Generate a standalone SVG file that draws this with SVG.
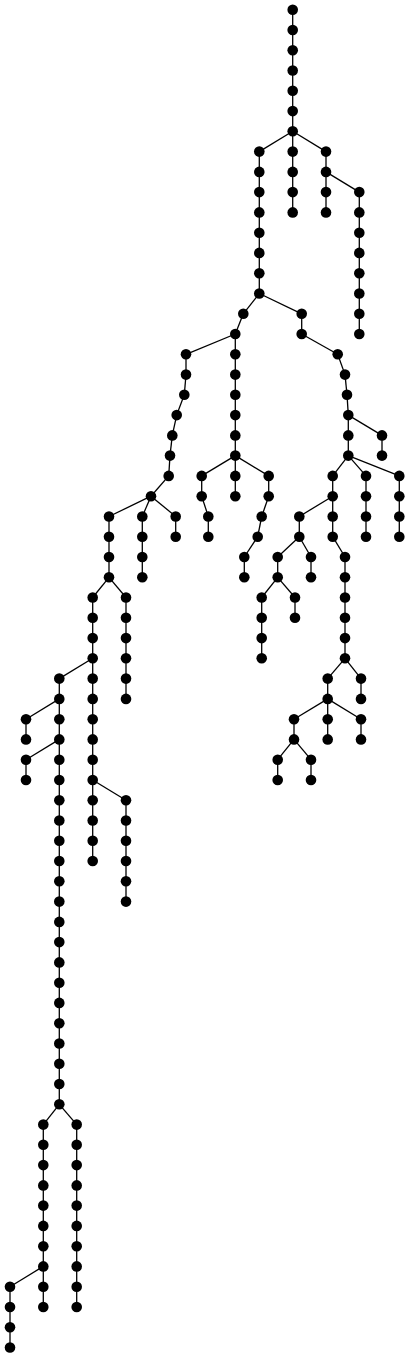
<svg xmlns="http://www.w3.org/2000/svg" width="410" height="1358" viewBox="0 0 410 1358">
<style>
.edges line{stroke:#000;stroke-width:1.3;fill:none}
.node circle{fill:#000}
</style>
<rect width="410" height="1358" fill="#fff"/>
<g id="connectors" class="edges">
<line x1="292.7" y1="9.7" x2="292.7" y2="30.0"/>
<line x1="292.7" y1="30.0" x2="292.7" y2="50.2"/>
<line x1="292.7" y1="50.2" x2="292.7" y2="70.5"/>
<line x1="292.7" y1="70.5" x2="292.7" y2="90.8"/>
<line x1="292.7" y1="90.8" x2="292.7" y2="111.1"/>
<line x1="292.7" y1="111.1" x2="292.7" y2="131.3"/>
<line x1="292.7" y1="131.3" x2="292.7" y2="151.6"/>
<line x1="292.7" y1="151.6" x2="292.7" y2="171.9"/>
<line x1="292.7" y1="171.9" x2="292.7" y2="192.1"/>
<line x1="292.7" y1="192.1" x2="292.7" y2="212.4"/>
<line x1="292.7" y1="131.3" x2="326" y2="151.6"/>
<line x1="326" y1="151.6" x2="326" y2="171.9"/>
<line x1="326" y1="171.9" x2="326" y2="192.1"/>
<line x1="326" y1="192.1" x2="326" y2="212.4"/>
<line x1="326" y1="171.9" x2="359.3" y2="192.1"/>
<line x1="359.3" y1="192.1" x2="359.3" y2="212.4"/>
<line x1="359.3" y1="212.4" x2="359.3" y2="232.7"/>
<line x1="359.3" y1="232.7" x2="359.3" y2="252.9"/>
<line x1="359.3" y1="252.9" x2="359.3" y2="273.2"/>
<line x1="359.3" y1="273.2" x2="359.3" y2="293.5"/>
<line x1="359.3" y1="293.5" x2="359.3" y2="313.8"/>
<line x1="359.3" y1="313.8" x2="359.3" y2="334.0"/>
<line x1="292.7" y1="131.3" x2="259.3" y2="151.6"/>
<line x1="259.3" y1="151.6" x2="259.3" y2="171.9"/>
<line x1="259.3" y1="171.9" x2="259.3" y2="192.1"/>
<line x1="259.3" y1="192.1" x2="259.3" y2="212.4"/>
<line x1="259.3" y1="212.4" x2="259.3" y2="232.7"/>
<line x1="259.3" y1="232.7" x2="259.3" y2="252.9"/>
<line x1="259.3" y1="252.9" x2="259.3" y2="273.2"/>
<line x1="259.3" y1="273.2" x2="259.3" y2="293.5"/>
<line x1="259.3" y1="293.5" x2="243.3" y2="313.8"/>
<line x1="243.3" y1="313.8" x2="235.3" y2="334.0"/>
<line x1="259.3" y1="293.5" x2="301.7" y2="313.8"/>
<line x1="301.7" y1="313.8" x2="301.7" y2="334.0"/>
<line x1="301.7" y1="334.0" x2="337.7" y2="354.3"/>
<line x1="337.7" y1="354.3" x2="345" y2="374.6"/>
<line x1="345" y1="374.6" x2="347" y2="394.8"/>
<line x1="347" y1="394.8" x2="348.3" y2="415.1"/>
<line x1="348.3" y1="415.1" x2="348.3" y2="435.4"/>
<line x1="348.3" y1="435.4" x2="348.3" y2="455.6"/>
<line x1="348.3" y1="415.1" x2="382" y2="435.4"/>
<line x1="382" y1="435.4" x2="382" y2="455.6"/>
<line x1="348.3" y1="455.6" x2="332.7" y2="475.9"/>
<line x1="332.7" y1="475.9" x2="332.7" y2="496.2"/>
<line x1="348.3" y1="455.6" x2="366" y2="475.9"/>
<line x1="366" y1="475.9" x2="366" y2="496.2"/>
<line x1="366" y1="496.2" x2="366" y2="516.5"/>
<line x1="366" y1="516.5" x2="366" y2="536.7"/>
<line x1="348.3" y1="455.6" x2="399.3" y2="475.9"/>
<line x1="399.3" y1="475.9" x2="399.3" y2="496.2"/>
<line x1="399.3" y1="496.2" x2="399.3" y2="516.5"/>
<line x1="399.3" y1="516.5" x2="399.3" y2="536.7"/>
<line x1="332.7" y1="496.2" x2="299.3" y2="516.5"/>
<line x1="299.3" y1="516.5" x2="299.3" y2="536.7"/>
<line x1="299.3" y1="536.7" x2="277.7" y2="557.0"/>
<line x1="277.7" y1="557.0" x2="277.7" y2="577.3"/>
<line x1="299.3" y1="536.7" x2="311" y2="557.0"/>
<line x1="311" y1="557.0" x2="311" y2="577.3"/>
<line x1="277.7" y1="577.3" x2="261.7" y2="597.5"/>
<line x1="261.7" y1="597.5" x2="261.7" y2="617.8"/>
<line x1="261.7" y1="617.8" x2="261.7" y2="638.1"/>
<line x1="261.7" y1="638.1" x2="261.7" y2="658.3"/>
<line x1="277.7" y1="577.3" x2="295" y2="597.5"/>
<line x1="295" y1="597.5" x2="295" y2="617.8"/>
<line x1="332.7" y1="496.2" x2="332.7" y2="516.5"/>
<line x1="332.7" y1="516.5" x2="332.7" y2="536.7"/>
<line x1="332.7" y1="536.7" x2="345" y2="557.0"/>
<line x1="345" y1="557.0" x2="345" y2="577.3"/>
<line x1="345" y1="577.3" x2="345" y2="597.5"/>
<line x1="345" y1="597.5" x2="345" y2="617.8"/>
<line x1="345" y1="617.8" x2="345" y2="638.1"/>
<line x1="345" y1="638.1" x2="345" y2="658.3"/>
<line x1="345" y1="658.3" x2="327.7" y2="678.6"/>
<line x1="327.7" y1="678.6" x2="327.7" y2="698.9"/>
<line x1="345" y1="658.3" x2="361" y2="678.6"/>
<line x1="361" y1="678.6" x2="361" y2="698.9"/>
<line x1="327.7" y1="698.9" x2="294" y2="719.2"/>
<line x1="294" y1="719.2" x2="294" y2="739.4"/>
<line x1="327.7" y1="698.9" x2="327.7" y2="719.2"/>
<line x1="327.7" y1="719.2" x2="327.7" y2="739.4"/>
<line x1="327.7" y1="698.9" x2="361" y2="719.2"/>
<line x1="361" y1="719.2" x2="361" y2="739.4"/>
<line x1="294" y1="739.4" x2="277.7" y2="759.7"/>
<line x1="277.7" y1="759.7" x2="277.7" y2="780.0"/>
<line x1="294" y1="739.4" x2="311" y2="759.7"/>
<line x1="311" y1="759.7" x2="311" y2="780.0"/>
<line x1="235.3" y1="334.0" x2="235.3" y2="354.3"/>
<line x1="235.3" y1="354.3" x2="235.3" y2="374.6"/>
<line x1="235.3" y1="374.6" x2="235.3" y2="394.8"/>
<line x1="235.3" y1="394.8" x2="235.3" y2="415.1"/>
<line x1="235.3" y1="415.1" x2="235.3" y2="435.4"/>
<line x1="235.3" y1="435.4" x2="235.3" y2="455.6"/>
<line x1="235.3" y1="455.6" x2="201.7" y2="475.9"/>
<line x1="201.7" y1="475.9" x2="201.7" y2="496.2"/>
<line x1="201.7" y1="496.2" x2="208.3" y2="516.5"/>
<line x1="208.3" y1="516.5" x2="208.3" y2="536.7"/>
<line x1="235.3" y1="455.6" x2="235.3" y2="475.9"/>
<line x1="235.3" y1="475.9" x2="235.3" y2="496.2"/>
<line x1="235.3" y1="455.6" x2="268.7" y2="475.9"/>
<line x1="268.7" y1="475.9" x2="268.7" y2="496.2"/>
<line x1="268.7" y1="496.2" x2="261.7" y2="516.5"/>
<line x1="261.7" y1="516.5" x2="257.7" y2="536.7"/>
<line x1="257.7" y1="536.7" x2="244.3" y2="557.0"/>
<line x1="244.3" y1="557.0" x2="244.3" y2="577.3"/>
<line x1="235.3" y1="334.0" x2="186" y2="354.3"/>
<line x1="186" y1="354.3" x2="186" y2="374.6"/>
<line x1="186" y1="374.6" x2="184.3" y2="394.8"/>
<line x1="184.3" y1="394.8" x2="176.7" y2="415.1"/>
<line x1="176.7" y1="415.1" x2="172.3" y2="435.4"/>
<line x1="172.3" y1="435.4" x2="170" y2="455.6"/>
<line x1="170" y1="455.6" x2="168.7" y2="475.9"/>
<line x1="168.7" y1="475.9" x2="151" y2="496.2"/>
<line x1="151" y1="496.2" x2="175.7" y2="516.5"/>
<line x1="175.7" y1="516.5" x2="175.7" y2="536.7"/>
<line x1="151" y1="496.2" x2="142.3" y2="516.5"/>
<line x1="142.3" y1="516.5" x2="142.3" y2="536.7"/>
<line x1="142.3" y1="536.7" x2="142.3" y2="557.0"/>
<line x1="142.3" y1="557.0" x2="142.3" y2="577.3"/>
<line x1="151" y1="496.2" x2="109" y2="516.5"/>
<line x1="109" y1="516.5" x2="109" y2="536.7"/>
<line x1="109" y1="536.7" x2="109" y2="557.0"/>
<line x1="109" y1="557.0" x2="109" y2="577.3"/>
<line x1="109" y1="577.3" x2="126" y2="597.5"/>
<line x1="126" y1="597.5" x2="126" y2="617.8"/>
<line x1="126" y1="617.8" x2="126" y2="638.1"/>
<line x1="126" y1="638.1" x2="126" y2="658.3"/>
<line x1="126" y1="658.3" x2="126" y2="678.6"/>
<line x1="126" y1="678.6" x2="126" y2="698.9"/>
<line x1="109" y1="577.3" x2="92.7" y2="597.5"/>
<line x1="92.7" y1="597.5" x2="92.7" y2="617.8"/>
<line x1="92.7" y1="617.8" x2="92.7" y2="638.1"/>
<line x1="92.7" y1="638.1" x2="92.7" y2="658.3"/>
<line x1="92.7" y1="658.3" x2="92.7" y2="678.6"/>
<line x1="92.7" y1="678.6" x2="92.7" y2="698.9"/>
<line x1="92.7" y1="698.9" x2="92.7" y2="719.2"/>
<line x1="92.7" y1="719.2" x2="92.7" y2="739.4"/>
<line x1="92.7" y1="739.4" x2="92.7" y2="759.7"/>
<line x1="92.7" y1="759.7" x2="92.7" y2="780.0"/>
<line x1="92.7" y1="780.0" x2="92.7" y2="800.2"/>
<line x1="92.7" y1="800.2" x2="92.7" y2="820.5"/>
<line x1="92.7" y1="820.5" x2="92.7" y2="840.8"/>
<line x1="92.7" y1="840.8" x2="92.7" y2="861.0"/>
<line x1="92.7" y1="780.0" x2="126" y2="800.2"/>
<line x1="126" y1="800.2" x2="126" y2="820.5"/>
<line x1="126" y1="820.5" x2="126" y2="840.8"/>
<line x1="126" y1="840.8" x2="126" y2="861.0"/>
<line x1="126" y1="861.0" x2="126" y2="881.3"/>
<line x1="126" y1="881.3" x2="126" y2="901.6"/>
<line x1="92.7" y1="658.3" x2="59.3" y2="678.6"/>
<line x1="59.3" y1="678.6" x2="59.3" y2="698.9"/>
<line x1="59.3" y1="698.9" x2="26" y2="719.2"/>
<line x1="26" y1="719.2" x2="26" y2="739.4"/>
<line x1="59.3" y1="698.9" x2="59.3" y2="719.2"/>
<line x1="59.3" y1="719.2" x2="59.3" y2="739.4"/>
<line x1="59.3" y1="739.4" x2="26" y2="759.7"/>
<line x1="26" y1="759.7" x2="26" y2="780.0"/>
<line x1="59.3" y1="739.4" x2="59.3" y2="759.7"/>
<line x1="59.3" y1="759.7" x2="59.3" y2="780.0"/>
<line x1="59.3" y1="780.0" x2="59.3" y2="800.2"/>
<line x1="59.3" y1="800.2" x2="59.3" y2="820.5"/>
<line x1="59.3" y1="820.5" x2="59.3" y2="840.8"/>
<line x1="59.3" y1="840.8" x2="59.3" y2="861.0"/>
<line x1="59.3" y1="861.0" x2="59.3" y2="881.3"/>
<line x1="59.3" y1="881.3" x2="59.3" y2="901.6"/>
<line x1="59.3" y1="901.6" x2="59.3" y2="921.9"/>
<line x1="59.3" y1="921.9" x2="59.3" y2="942.1"/>
<line x1="59.3" y1="942.1" x2="59.3" y2="962.4"/>
<line x1="59.3" y1="962.4" x2="59.3" y2="982.7"/>
<line x1="59.3" y1="982.7" x2="59.3" y2="1002.9"/>
<line x1="59.3" y1="1002.9" x2="59.3" y2="1023.2"/>
<line x1="59.3" y1="1023.2" x2="59.3" y2="1043.5"/>
<line x1="59.3" y1="1043.5" x2="59.3" y2="1063.7"/>
<line x1="59.3" y1="1063.7" x2="59.3" y2="1084.0"/>
<line x1="59.3" y1="1084.0" x2="59.3" y2="1104.3"/>
<line x1="59.3" y1="1104.3" x2="43.3" y2="1124.6"/>
<line x1="43.3" y1="1124.6" x2="43.3" y2="1144.8"/>
<line x1="43.3" y1="1144.8" x2="43.3" y2="1165.1"/>
<line x1="43.3" y1="1165.1" x2="43.3" y2="1185.4"/>
<line x1="43.3" y1="1185.4" x2="43.3" y2="1205.6"/>
<line x1="43.3" y1="1205.6" x2="43.3" y2="1225.9"/>
<line x1="43.3" y1="1225.9" x2="43.3" y2="1246.2"/>
<line x1="43.3" y1="1246.2" x2="43.3" y2="1266.4"/>
<line x1="43.3" y1="1266.4" x2="43.3" y2="1286.7"/>
<line x1="43.3" y1="1286.7" x2="43.3" y2="1307.0"/>
<line x1="59.3" y1="1104.3" x2="76.7" y2="1124.6"/>
<line x1="76.7" y1="1124.6" x2="76.7" y2="1144.8"/>
<line x1="76.7" y1="1144.8" x2="76.7" y2="1165.1"/>
<line x1="76.7" y1="1165.1" x2="76.7" y2="1185.4"/>
<line x1="76.7" y1="1185.4" x2="76.7" y2="1205.6"/>
<line x1="76.7" y1="1205.6" x2="76.7" y2="1225.9"/>
<line x1="76.7" y1="1225.9" x2="76.7" y2="1246.2"/>
<line x1="76.7" y1="1246.2" x2="76.7" y2="1266.4"/>
<line x1="76.7" y1="1266.4" x2="76.7" y2="1286.7"/>
<line x1="76.7" y1="1286.7" x2="76.7" y2="1307.0"/>
<line x1="43.3" y1="1266.4" x2="10" y2="1286.7"/>
<line x1="10" y1="1286.7" x2="10" y2="1307.0"/>
<line x1="10" y1="1307.0" x2="10" y2="1327.3"/>
<line x1="10" y1="1327.3" x2="10" y2="1347.5"/>
</g>
<g id="T0" class="node"><circle cx="292.7" cy="9.7" r="5.3"/></g>
<g id="T1" class="node"><circle cx="292.7" cy="30.0" r="5.3"/></g>
<g id="T2" class="node"><circle cx="292.7" cy="50.2" r="5.3"/></g>
<g id="T3" class="node"><circle cx="292.7" cy="70.5" r="5.3"/></g>
<g id="T4" class="node"><circle cx="292.7" cy="90.8" r="5.3"/></g>
<g id="T5" class="node"><circle cx="292.7" cy="111.1" r="5.3"/></g>
<g id="T6" class="node"><circle cx="292.7" cy="131.3" r="5.3"/></g>
<g id="M7" class="node"><circle cx="292.7" cy="151.6" r="5.3"/></g>
<g id="M8" class="node"><circle cx="292.7" cy="171.9" r="5.3"/></g>
<g id="M9" class="node"><circle cx="292.7" cy="192.1" r="5.3"/></g>
<g id="M10" class="node"><circle cx="292.7" cy="212.4" r="5.3"/></g>
<g id="R7" class="node"><circle cx="326" cy="151.6" r="5.3"/></g>
<g id="R8" class="node"><circle cx="326" cy="171.9" r="5.3"/></g>
<g id="R9" class="node"><circle cx="326" cy="192.1" r="5.3"/></g>
<g id="R10" class="node"><circle cx="326" cy="212.4" r="5.3"/></g>
<g id="S9" class="node"><circle cx="359.3" cy="192.1" r="5.3"/></g>
<g id="S10" class="node"><circle cx="359.3" cy="212.4" r="5.3"/></g>
<g id="S11" class="node"><circle cx="359.3" cy="232.7" r="5.3"/></g>
<g id="S12" class="node"><circle cx="359.3" cy="252.9" r="5.3"/></g>
<g id="S13" class="node"><circle cx="359.3" cy="273.2" r="5.3"/></g>
<g id="S14" class="node"><circle cx="359.3" cy="293.5" r="5.3"/></g>
<g id="S15" class="node"><circle cx="359.3" cy="313.8" r="5.3"/></g>
<g id="S16" class="node"><circle cx="359.3" cy="334.0" r="5.3"/></g>
<g id="L7" class="node"><circle cx="259.3" cy="151.6" r="5.3"/></g>
<g id="L8" class="node"><circle cx="259.3" cy="171.9" r="5.3"/></g>
<g id="L9" class="node"><circle cx="259.3" cy="192.1" r="5.3"/></g>
<g id="L10" class="node"><circle cx="259.3" cy="212.4" r="5.3"/></g>
<g id="L11" class="node"><circle cx="259.3" cy="232.7" r="5.3"/></g>
<g id="L12" class="node"><circle cx="259.3" cy="252.9" r="5.3"/></g>
<g id="L13" class="node"><circle cx="259.3" cy="273.2" r="5.3"/></g>
<g id="L14" class="node"><circle cx="259.3" cy="293.5" r="5.3"/></g>
<g id="P15" class="node"><circle cx="243.3" cy="313.8" r="5.3"/></g>
<g id="P16" class="node"><circle cx="235.3" cy="334.0" r="5.3"/></g>
<g id="Q15" class="node"><circle cx="301.7" cy="313.8" r="5.3"/></g>
<g id="Q16" class="node"><circle cx="301.7" cy="334.0" r="5.3"/></g>
<g id="Q17" class="node"><circle cx="337.7" cy="354.3" r="5.3"/></g>
<g id="Q18" class="node"><circle cx="345" cy="374.6" r="5.3"/></g>
<g id="Q19" class="node"><circle cx="347" cy="394.8" r="5.3"/></g>
<g id="Q20" class="node"><circle cx="348.3" cy="415.1" r="5.3"/></g>
<g id="Q21" class="node"><circle cx="348.3" cy="435.4" r="5.3"/></g>
<g id="Q22" class="node"><circle cx="348.3" cy="455.6" r="5.3"/></g>
<g id="U21" class="node"><circle cx="382" cy="435.4" r="5.3"/></g>
<g id="U22" class="node"><circle cx="382" cy="455.6" r="5.3"/></g>
<g id="V23" class="node"><circle cx="332.7" cy="475.9" r="5.3"/></g>
<g id="V24" class="node"><circle cx="332.7" cy="496.2" r="5.3"/></g>
<g id="W23" class="node"><circle cx="366" cy="475.9" r="5.3"/></g>
<g id="W24" class="node"><circle cx="366" cy="496.2" r="5.3"/></g>
<g id="W25" class="node"><circle cx="366" cy="516.5" r="5.3"/></g>
<g id="W26" class="node"><circle cx="366" cy="536.7" r="5.3"/></g>
<g id="X23" class="node"><circle cx="399.3" cy="475.9" r="5.3"/></g>
<g id="X24" class="node"><circle cx="399.3" cy="496.2" r="5.3"/></g>
<g id="X25" class="node"><circle cx="399.3" cy="516.5" r="5.3"/></g>
<g id="X26" class="node"><circle cx="399.3" cy="536.7" r="5.3"/></g>
<g id="Y25" class="node"><circle cx="299.3" cy="516.5" r="5.3"/></g>
<g id="Y26" class="node"><circle cx="299.3" cy="536.7" r="5.3"/></g>
<g id="YA27" class="node"><circle cx="277.7" cy="557.0" r="5.3"/></g>
<g id="YA28" class="node"><circle cx="277.7" cy="577.3" r="5.3"/></g>
<g id="YB27" class="node"><circle cx="311" cy="557.0" r="5.3"/></g>
<g id="YB28" class="node"><circle cx="311" cy="577.3" r="5.3"/></g>
<g id="YC29" class="node"><circle cx="261.7" cy="597.5" r="5.3"/></g>
<g id="YC30" class="node"><circle cx="261.7" cy="617.8" r="5.3"/></g>
<g id="YC31" class="node"><circle cx="261.7" cy="638.1" r="5.3"/></g>
<g id="YC32" class="node"><circle cx="261.7" cy="658.3" r="5.3"/></g>
<g id="YD29" class="node"><circle cx="295" cy="597.5" r="5.3"/></g>
<g id="YD30" class="node"><circle cx="295" cy="617.8" r="5.3"/></g>
<g id="Z25" class="node"><circle cx="332.7" cy="516.5" r="5.3"/></g>
<g id="Z26" class="node"><circle cx="332.7" cy="536.7" r="5.3"/></g>
<g id="Z27" class="node"><circle cx="345" cy="557.0" r="5.3"/></g>
<g id="Z28" class="node"><circle cx="345" cy="577.3" r="5.3"/></g>
<g id="Z29" class="node"><circle cx="345" cy="597.5" r="5.3"/></g>
<g id="Z30" class="node"><circle cx="345" cy="617.8" r="5.3"/></g>
<g id="Z31" class="node"><circle cx="345" cy="638.1" r="5.3"/></g>
<g id="Z32" class="node"><circle cx="345" cy="658.3" r="5.3"/></g>
<g id="ZA33" class="node"><circle cx="327.7" cy="678.6" r="5.3"/></g>
<g id="ZA34" class="node"><circle cx="327.7" cy="698.9" r="5.3"/></g>
<g id="ZB33" class="node"><circle cx="361" cy="678.6" r="5.3"/></g>
<g id="ZB34" class="node"><circle cx="361" cy="698.9" r="5.3"/></g>
<g id="ZC35" class="node"><circle cx="294" cy="719.2" r="5.3"/></g>
<g id="ZC36" class="node"><circle cx="294" cy="739.4" r="5.3"/></g>
<g id="ZD35" class="node"><circle cx="327.7" cy="719.2" r="5.3"/></g>
<g id="ZD36" class="node"><circle cx="327.7" cy="739.4" r="5.3"/></g>
<g id="ZE35" class="node"><circle cx="361" cy="719.2" r="5.3"/></g>
<g id="ZE36" class="node"><circle cx="361" cy="739.4" r="5.3"/></g>
<g id="ZF37" class="node"><circle cx="277.7" cy="759.7" r="5.3"/></g>
<g id="ZF38" class="node"><circle cx="277.7" cy="780.0" r="5.3"/></g>
<g id="ZG37" class="node"><circle cx="311" cy="759.7" r="5.3"/></g>
<g id="ZG38" class="node"><circle cx="311" cy="780.0" r="5.3"/></g>
<g id="E17" class="node"><circle cx="235.3" cy="354.3" r="5.3"/></g>
<g id="E18" class="node"><circle cx="235.3" cy="374.6" r="5.3"/></g>
<g id="E19" class="node"><circle cx="235.3" cy="394.8" r="5.3"/></g>
<g id="E20" class="node"><circle cx="235.3" cy="415.1" r="5.3"/></g>
<g id="E21" class="node"><circle cx="235.3" cy="435.4" r="5.3"/></g>
<g id="E22" class="node"><circle cx="235.3" cy="455.6" r="5.3"/></g>
<g id="F23" class="node"><circle cx="201.7" cy="475.9" r="5.3"/></g>
<g id="F24" class="node"><circle cx="201.7" cy="496.2" r="5.3"/></g>
<g id="F25" class="node"><circle cx="208.3" cy="516.5" r="5.3"/></g>
<g id="F26" class="node"><circle cx="208.3" cy="536.7" r="5.3"/></g>
<g id="G23" class="node"><circle cx="235.3" cy="475.9" r="5.3"/></g>
<g id="G24" class="node"><circle cx="235.3" cy="496.2" r="5.3"/></g>
<g id="H23" class="node"><circle cx="268.7" cy="475.9" r="5.3"/></g>
<g id="H24" class="node"><circle cx="268.7" cy="496.2" r="5.3"/></g>
<g id="H25" class="node"><circle cx="261.7" cy="516.5" r="5.3"/></g>
<g id="H26" class="node"><circle cx="257.7" cy="536.7" r="5.3"/></g>
<g id="H27" class="node"><circle cx="244.3" cy="557.0" r="5.3"/></g>
<g id="H28" class="node"><circle cx="244.3" cy="577.3" r="5.3"/></g>
<g id="D17" class="node"><circle cx="186" cy="354.3" r="5.3"/></g>
<g id="D18" class="node"><circle cx="186" cy="374.6" r="5.3"/></g>
<g id="D19" class="node"><circle cx="184.3" cy="394.8" r="5.3"/></g>
<g id="D20" class="node"><circle cx="176.7" cy="415.1" r="5.3"/></g>
<g id="D21" class="node"><circle cx="172.3" cy="435.4" r="5.3"/></g>
<g id="D22" class="node"><circle cx="170" cy="455.6" r="5.3"/></g>
<g id="D23" class="node"><circle cx="168.7" cy="475.9" r="5.3"/></g>
<g id="D24" class="node"><circle cx="151" cy="496.2" r="5.3"/></g>
<g id="K25" class="node"><circle cx="175.7" cy="516.5" r="5.3"/></g>
<g id="K26" class="node"><circle cx="175.7" cy="536.7" r="5.3"/></g>
<g id="J25" class="node"><circle cx="142.3" cy="516.5" r="5.3"/></g>
<g id="J26" class="node"><circle cx="142.3" cy="536.7" r="5.3"/></g>
<g id="J27" class="node"><circle cx="142.3" cy="557.0" r="5.3"/></g>
<g id="J28" class="node"><circle cx="142.3" cy="577.3" r="5.3"/></g>
<g id="I25" class="node"><circle cx="109" cy="516.5" r="5.3"/></g>
<g id="I26" class="node"><circle cx="109" cy="536.7" r="5.3"/></g>
<g id="I27" class="node"><circle cx="109" cy="557.0" r="5.3"/></g>
<g id="I28" class="node"><circle cx="109" cy="577.3" r="5.3"/></g>
<g id="AB29" class="node"><circle cx="126" cy="597.5" r="5.3"/></g>
<g id="AB30" class="node"><circle cx="126" cy="617.8" r="5.3"/></g>
<g id="AB31" class="node"><circle cx="126" cy="638.1" r="5.3"/></g>
<g id="AB32" class="node"><circle cx="126" cy="658.3" r="5.3"/></g>
<g id="AB33" class="node"><circle cx="126" cy="678.6" r="5.3"/></g>
<g id="AB34" class="node"><circle cx="126" cy="698.9" r="5.3"/></g>
<g id="AA29" class="node"><circle cx="92.7" cy="597.5" r="5.3"/></g>
<g id="AA30" class="node"><circle cx="92.7" cy="617.8" r="5.3"/></g>
<g id="AA31" class="node"><circle cx="92.7" cy="638.1" r="5.3"/></g>
<g id="AA32" class="node"><circle cx="92.7" cy="658.3" r="5.3"/></g>
<g id="AA33" class="node"><circle cx="92.7" cy="678.6" r="5.3"/></g>
<g id="AA34" class="node"><circle cx="92.7" cy="698.9" r="5.3"/></g>
<g id="AA35" class="node"><circle cx="92.7" cy="719.2" r="5.3"/></g>
<g id="AA36" class="node"><circle cx="92.7" cy="739.4" r="5.3"/></g>
<g id="AA37" class="node"><circle cx="92.7" cy="759.7" r="5.3"/></g>
<g id="AA38" class="node"><circle cx="92.7" cy="780.0" r="5.3"/></g>
<g id="AA39" class="node"><circle cx="92.7" cy="800.2" r="5.3"/></g>
<g id="AA40" class="node"><circle cx="92.7" cy="820.5" r="5.3"/></g>
<g id="AA41" class="node"><circle cx="92.7" cy="840.8" r="5.3"/></g>
<g id="AA42" class="node"><circle cx="92.7" cy="861.0" r="5.3"/></g>
<g id="AC39" class="node"><circle cx="126" cy="800.2" r="5.3"/></g>
<g id="AC40" class="node"><circle cx="126" cy="820.5" r="5.3"/></g>
<g id="AC41" class="node"><circle cx="126" cy="840.8" r="5.3"/></g>
<g id="AC42" class="node"><circle cx="126" cy="861.0" r="5.3"/></g>
<g id="AC43" class="node"><circle cx="126" cy="881.3" r="5.3"/></g>
<g id="AC44" class="node"><circle cx="126" cy="901.6" r="5.3"/></g>
<g id="C33" class="node"><circle cx="59.3" cy="678.6" r="5.3"/></g>
<g id="C34" class="node"><circle cx="59.3" cy="698.9" r="5.3"/></g>
<g id="CA35" class="node"><circle cx="26" cy="719.2" r="5.3"/></g>
<g id="CA36" class="node"><circle cx="26" cy="739.4" r="5.3"/></g>
<g id="C35" class="node"><circle cx="59.3" cy="719.2" r="5.3"/></g>
<g id="C36" class="node"><circle cx="59.3" cy="739.4" r="5.3"/></g>
<g id="CB37" class="node"><circle cx="26" cy="759.7" r="5.3"/></g>
<g id="CB38" class="node"><circle cx="26" cy="780.0" r="5.3"/></g>
<g id="C37" class="node"><circle cx="59.3" cy="759.7" r="5.3"/></g>
<g id="C38" class="node"><circle cx="59.3" cy="780.0" r="5.3"/></g>
<g id="C39" class="node"><circle cx="59.3" cy="800.2" r="5.3"/></g>
<g id="C40" class="node"><circle cx="59.3" cy="820.5" r="5.3"/></g>
<g id="C41" class="node"><circle cx="59.3" cy="840.8" r="5.3"/></g>
<g id="C42" class="node"><circle cx="59.3" cy="861.0" r="5.3"/></g>
<g id="C43" class="node"><circle cx="59.3" cy="881.3" r="5.3"/></g>
<g id="C44" class="node"><circle cx="59.3" cy="901.6" r="5.3"/></g>
<g id="C45" class="node"><circle cx="59.3" cy="921.9" r="5.3"/></g>
<g id="C46" class="node"><circle cx="59.3" cy="942.1" r="5.3"/></g>
<g id="C47" class="node"><circle cx="59.3" cy="962.4" r="5.3"/></g>
<g id="C48" class="node"><circle cx="59.3" cy="982.7" r="5.3"/></g>
<g id="C49" class="node"><circle cx="59.3" cy="1002.9" r="5.3"/></g>
<g id="C50" class="node"><circle cx="59.3" cy="1023.2" r="5.3"/></g>
<g id="C51" class="node"><circle cx="59.3" cy="1043.5" r="5.3"/></g>
<g id="C52" class="node"><circle cx="59.3" cy="1063.7" r="5.3"/></g>
<g id="C53" class="node"><circle cx="59.3" cy="1084.0" r="5.3"/></g>
<g id="C54" class="node"><circle cx="59.3" cy="1104.3" r="5.3"/></g>
<g id="EL55" class="node"><circle cx="43.3" cy="1124.6" r="5.3"/></g>
<g id="EL56" class="node"><circle cx="43.3" cy="1144.8" r="5.3"/></g>
<g id="EL57" class="node"><circle cx="43.3" cy="1165.1" r="5.3"/></g>
<g id="EL58" class="node"><circle cx="43.3" cy="1185.4" r="5.3"/></g>
<g id="EL59" class="node"><circle cx="43.3" cy="1205.6" r="5.3"/></g>
<g id="EL60" class="node"><circle cx="43.3" cy="1225.9" r="5.3"/></g>
<g id="EL61" class="node"><circle cx="43.3" cy="1246.2" r="5.3"/></g>
<g id="EL62" class="node"><circle cx="43.3" cy="1266.4" r="5.3"/></g>
<g id="EL63" class="node"><circle cx="43.3" cy="1286.7" r="5.3"/></g>
<g id="EL64" class="node"><circle cx="43.3" cy="1307.0" r="5.3"/></g>
<g id="FR55" class="node"><circle cx="76.7" cy="1124.6" r="5.3"/></g>
<g id="FR56" class="node"><circle cx="76.7" cy="1144.8" r="5.3"/></g>
<g id="FR57" class="node"><circle cx="76.7" cy="1165.1" r="5.3"/></g>
<g id="FR58" class="node"><circle cx="76.7" cy="1185.4" r="5.3"/></g>
<g id="FR59" class="node"><circle cx="76.7" cy="1205.6" r="5.3"/></g>
<g id="FR60" class="node"><circle cx="76.7" cy="1225.9" r="5.3"/></g>
<g id="FR61" class="node"><circle cx="76.7" cy="1246.2" r="5.3"/></g>
<g id="FR62" class="node"><circle cx="76.7" cy="1266.4" r="5.3"/></g>
<g id="FR63" class="node"><circle cx="76.7" cy="1286.7" r="5.3"/></g>
<g id="FR64" class="node"><circle cx="76.7" cy="1307.0" r="5.3"/></g>
<g id="GL63" class="node"><circle cx="10" cy="1286.7" r="5.3"/></g>
<g id="GL64" class="node"><circle cx="10" cy="1307.0" r="5.3"/></g>
<g id="GL65" class="node"><circle cx="10" cy="1327.3" r="5.3"/></g>
<g id="GL66" class="node"><circle cx="10" cy="1347.5" r="5.3"/></g>
</svg>
